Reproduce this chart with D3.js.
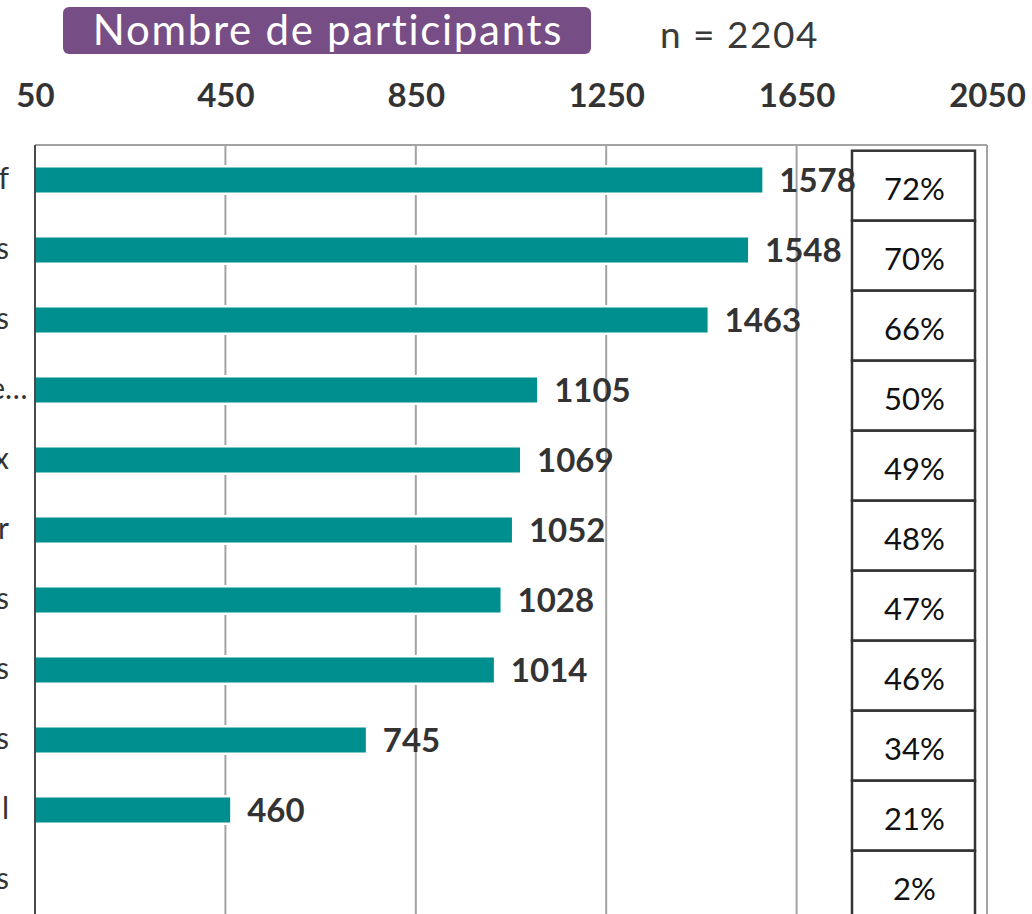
<!DOCTYPE html>
<html>
<head>
<meta charset="utf-8">
<script src="https://cdn.jsdelivr.net/npm/d3@7"></script>
<style>
  html, body { margin: 0; padding: 0; background: #fff; overflow: hidden; }
  svg { display: block; }
</style>
</head>
<body>
<svg id="chart" width="1032" height="914"></svg>
<script>
// Category labels (only their visible endings), counts and shares
const categories = ["f", "s", "s", "e…", "x", "r", "s", "s", "s", "l", "s"];
const counts = [1578, 1548, 1463, 1105, 1069, 1052, 1028, 1014, 745, 460, 44];
const shares = ["72%", "70%", "66%", "50%", "49%", "48%", "47%", "46%", "34%", "21%", "2%"];
const xTicks = [50, 450, 850, 1250, 1650, 2050];
const totalN = 2204;
const titleText = "Nombre de participants";

const FONT = "Lato, 'Open Sans', sans-serif";
const TEAL = "#008f8f";
const PURPLE = "#774d85";
const INK = "#333333";
const GRID = "#a3a3a3";

const svg = d3.select("#chart");

const plot = { left: 35, right: 987, top: 145 };
const step = 70;

const x = d3.scaleLinear().domain([xTicks[0], xTicks[xTicks.length - 1]]).range([plot.left, plot.right]);
const idx = d3.range(categories.length);
const y = d3.scaleBand().domain(idx).range([plot.top, plot.top + step * categories.length]).padding(0);
const barH = 25;

// Title badge and sample size
svg.append("rect")
  .attr("x", 63).attr("y", 7).attr("width", 528).attr("height", 47).attr("rx", 6)
  .attr("fill", PURPLE);
svg.append("text")
  .attr("x", 328).attr("y", 45)
  .attr("text-anchor", "middle")
  .attr("fill", "#fff")
  .style("font-family", FONT).style("font-size", "42px").style("letter-spacing", "1.7px")
  .text(titleText);
svg.append("text")
  .attr("x", 660).attr("y", 48)
  .attr("fill", "#3a3a3a")
  .style("font-family", FONT).style("font-size", "37px").style("letter-spacing", "1.5px")
  .text("n = " + totalN);

// Top axis: tick labels only
const xAxis = d3.axisTop(x).tickValues(xTicks).tickSize(0).tickPadding(0).tickFormat(d3.format("d"));
const axisG = svg.append("g").attr("transform", "translate(0,107)").call(xAxis);
axisG.select(".domain").remove();
axisG.selectAll("text")
  .attr("y", 0).attr("dy", 0)
  .attr("fill", INK)
  .style("font-family", FONT).style("font-size", "33px").style("font-weight", "700");

// Plot frame and vertical gridlines
const bottom = y.range()[1];
svg.append("g").selectAll("line").data(xTicks.slice(1, -1)).join("line")
  .attr("x1", d => x(d)).attr("x2", d => x(d))
  .attr("y1", plot.top).attr("y2", bottom)
  .attr("stroke", GRID).attr("stroke-width", 2);
svg.append("line")
  .attr("x1", plot.left).attr("x2", plot.right).attr("y1", plot.top).attr("y2", plot.top)
  .attr("stroke", GRID).attr("stroke-width", 2);
svg.append("line")
  .attr("x1", plot.right).attr("x2", plot.right).attr("y1", plot.top).attr("y2", bottom)
  .attr("stroke", GRID).attr("stroke-width", 2);

// Bars with a thin white halo
const barW = d => Math.max(0, x(Math.max(d, xTicks[0])) - x(xTicks[0]));
const visible = idx.filter(i => counts[i] > xTicks[0]);
const center = i => y(i) + y.bandwidth() / 2;

svg.append("g").selectAll("rect").data(visible).join("rect")
  .attr("x", x(xTicks[0]))
  .attr("y", i => center(i) - barH / 2 - 2.5)
  .attr("width", i => barW(counts[i]) + 2.5)
  .attr("height", barH + 5)
  .attr("fill", "#fff");
svg.append("g").selectAll("rect").data(visible).join("rect")
  .attr("x", x(xTicks[0]))
  .attr("y", i => center(i) - barH / 2)
  .attr("width", i => barW(counts[i]))
  .attr("height", barH)
  .attr("fill", TEAL);

// Left axis line
svg.append("line")
  .attr("x1", plot.left).attr("x2", plot.left).attr("y1", plot.top).attr("y2", bottom)
  .attr("stroke", "#4a4a4a").attr("stroke-width", 2);

// Category labels, right-aligned against the axis
const catG = svg.append("g");
catG.selectAll("text").data(idx).join("text")
  .attr("x", 9)
  .attr("y", i => center(i) + 9)
  .attr("text-anchor", "end")
  .attr("fill", INK)
  .style("font-family", FONT).style("font-size", "30px")
  .text(i => categories[i])
  .each(function (i) {
    // truncated labels let their ellipsis overflow past the alignment edge
    if (categories[i].endsWith("…")) {
      const probe = catG.append("text").style("font-family", FONT).style("font-size", "30px").text("…");
      const w = probe.node().getComputedTextLength();
      probe.remove();
      d3.select(this).attr("dx", w - 4);
    }
  });

// Share table on the right
const table = { left: 852, right: 975, offset: 5.7 };
const tableG = svg.append("g");
tableG.selectAll("rect").data(idx).join("rect")
  .attr("x", table.left)
  .attr("y", i => y(i) + table.offset)
  .attr("width", table.right - table.left)
  .attr("height", step)
  .attr("fill", "#fff")
  .attr("stroke", "#333")
  .attr("stroke-width", 2.5);
tableG.selectAll("text").data(idx).join("text")
  .attr("x", (table.left + table.right) / 2 + 1)
  .attr("y", i => y(i) + table.offset + 49.5)
  .attr("text-anchor", "middle")
  .attr("fill", "#111")
  .style("font-family", FONT).style("font-size", "31px")
  .text(i => shares[i]);

// Value labels at the bar ends
svg.append("g").selectAll("text").data(visible).join("text")
  .attr("x", i => x(counts[i]) + 17)
  .attr("y", i => center(i) + 12)
  .attr("fill", INK)
  .style("font-family", FONT).style("font-size", "33px").style("font-weight", "700")
  .text(i => counts[i]);
</script>
</body>
</html>
